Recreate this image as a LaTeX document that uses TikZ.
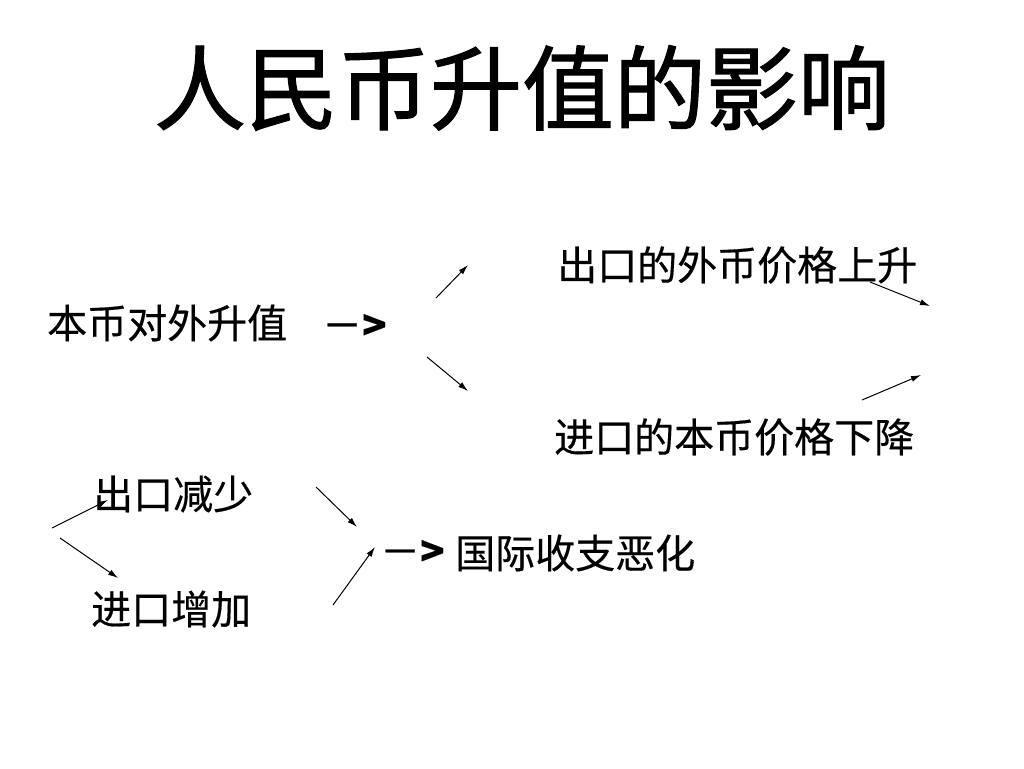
\documentclass[tikz,border=0pt]{standalone}
\usepackage{fontspec}
\usetikzlibrary{arrows.meta}
\newfontfamily\cjk[FakeBold=0.4]{Noto Sans CJK SC}
\newfontfamily\cjktitle[FakeBold=1.2]{Noto Sans CJK SC}
\tikzset{
  txt/.style={font=\cjk\fontsize{40}{44}\selectfont, inner sep=0pt, anchor=west},
  arr/.style={-{Latex[length=10pt,width=6pt]}, line width=1pt}
}
\begin{document}
\begin{tikzpicture}[x=1pt,y=-1pt]
\useasboundingbox (0,0) rectangle (1024,768);

\node[font=\cjktitle\fontsize{92}{100}\selectfont, inner sep=0pt] (title) at (522,88) {人民币升值的影响};

\node[txt] (src) at (47,323) {本币对外升值};
\node[txt] (go1) at (322,327) {－\textbf{>}};
\node[txt] (up) at (557,265) {出口的外币价格上升};
\node[txt] (down) at (554,437) {进口的本币价格下降};
\node[txt] (exp) at (93,494) {出口减少};
\node[txt] (imp) at (91,609) {进口增加};
\node[txt] (go2) at (380,553) {－\textbf{>}};
\node[txt] (bop) at (455,553) {国际收支恶化};

\coordinate (a1) at (436,298); \coordinate (b1) at (468,265);
\coordinate (a2) at (427,357); \coordinate (b2) at (468,391);
\coordinate (a3) at (870,282); \coordinate (b3) at (930,306);
\coordinate (a4) at (862,400); \coordinate (b4) at (921,375);
\coordinate (a5) at (52,528);  \coordinate (b5) at (108,500);
\coordinate (a6) at (60,538);  \coordinate (b6) at (118,578);
\coordinate (a7) at (316,487); \coordinate (b7) at (357,527);
\coordinate (a8) at (333,605); \coordinate (b8) at (375,547);

\draw[arr] (a1)--(b1);
\draw[arr] (a2)--(b2);
\draw[arr] (a3)--(b3);
\draw[arr] (a4)--(b4);
\draw[arr] (a5)--(b5);
\draw[arr] (a6)--(b6);
\draw[arr] (a7)--(b7);
\draw[arr] (a8)--(b8);
\end{tikzpicture}
\end{document}
